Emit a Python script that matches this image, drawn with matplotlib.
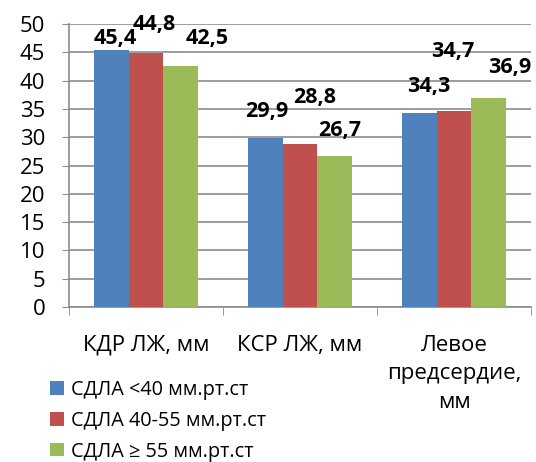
import numpy as np
import matplotlib
matplotlib.use("Agg")
import matplotlib.pyplot as plt

plt.rcParams['font.family'] = ['Open Sans', 'DejaVu Sans']

# data
categories = ['КДР ЛЖ, мм', 'КСР ЛЖ, мм', 'Левое\nпредсердие,\nмм']
series_names = ['СДЛА <40 мм.рт.ст', 'СДЛА 40-55 мм.рт.ст', 'СДЛА ≥ 55 мм.рт.ст']
low = [45.4, 29.9, 34.3]
mid = [44.8, 28.8, 34.7]
high = [42.5, 26.7, 36.9]

colors = ['#4F81BD', '#C0504D', '#9BBB59']
# label offsets from bar top, in pixels (dx, dy) - labels were dragged around in the original
label_offsets = [
    [(4, 12), (8, 29), (26, 28)],
    [(2, 26), (15, 47), (5, 25)],
    [(10, 26), (-1, 59), (21, 31)],
]

fig = plt.figure(figsize=(5.36, 4.62), dpi=100)
ax = fig.add_axes([0.1287, 0.3355, 0.862, 0.6125])

x = np.arange(len(categories))
w = 0.227
all_series = [low, mid, high]
for i, vals in enumerate(all_series):
    bars = ax.bar(x + (i - 1) * w, vals, w, color=colors[i], label=series_names[i],
                  zorder=3, edgecolor='none')
    for j, b in enumerate(bars):
        dx, dy = label_offsets[j][i]
        ax.annotate(f'{vals[j]:.1f}'.replace('.', ','),
                    (b.get_x() + b.get_width() / 2, b.get_height()),
                    xytext=(dx, dy), textcoords='offset pixels',
                    ha='center', va='center', fontsize=15.5, fontweight='bold',
                    zorder=4)

ax.set_xlim(-0.5, 2.5)
ax.set_ylim(0, 50)
ax.set_yticks(np.arange(0, 51, 5))
ax.yaxis.grid(True, color='#8c8c8c', linewidth=1.2, zorder=0)
ax.set_axisbelow(True)
ax.tick_params(axis='y', labelsize=16, length=5, color='#8c8c8c', pad=12)

ax.set_xticks(x)
ax.set_xticklabels(categories, fontsize=16, linespacing=1.48)
ax.tick_params(axis='x', which='major', length=0, pad=20)
ax.set_xticks([-0.5, 0.5, 1.5, 2.5], minor=True)
ax.tick_params(axis='x', which='minor', length=6, color='#8c8c8c')

for s in ['top', 'right']:
    ax.spines[s].set_visible(False)
for s in ['left', 'bottom']:
    ax.spines[s].set_color('#8c8c8c')
    ax.spines[s].set_linewidth(1.2)

ax.legend(loc='upper left', bbox_to_anchor=(0.094, 0.178), bbox_transform=fig.transFigure,
          frameon=False, fontsize=14.3, handlelength=0.68, handleheight=0.68,
          handletextpad=0.35, labelspacing=0.55, borderaxespad=0, borderpad=0)

fig.savefig('out.png', dpi=100)
